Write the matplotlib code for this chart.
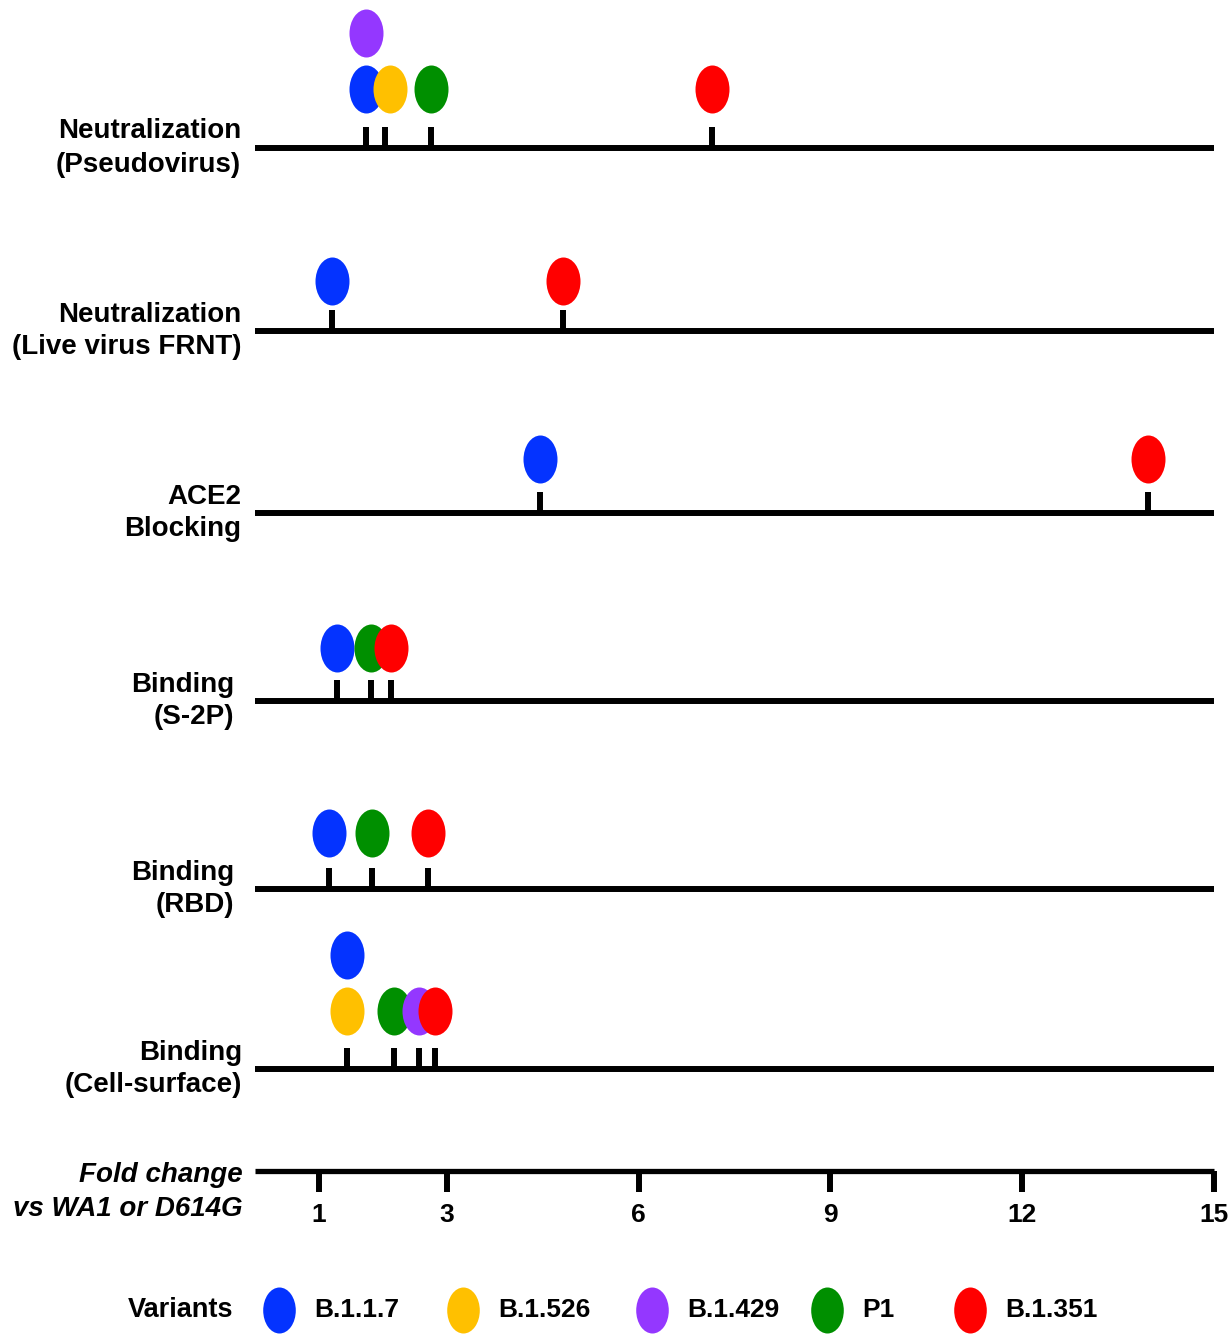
import numpy as np
import matplotlib
matplotlib.use('Agg')
import matplotlib.pyplot as plt
from matplotlib.path import Path
from matplotlib.transforms import (Affine2D, ScaledTranslation,
                                   blended_transform_factory, IdentityTransform)

plt.rcParams['font.family'] = ['Liberation Sans', 'DejaVu Sans']

# ---- data (fold change vs WA1 / D614G) ----
variants = ['B.1.1.7', 'B.1.526', 'B.1.429', 'P1', 'B.1.351']
colors = ['#0433FF', '#FFC000', '#9437FF', '#008F00', '#FF0000']
assays = ['Neutralization\n(Pseudovirus)', 'Neutralization\n(Live virus FRNT)',
          'ACE2\nBlocking', 'Binding\n(S-2P)', 'Binding\n(RBD)', 'Binding\n(Cell-surface)']
nan = np.nan
b117 = [1.74, 1.20, 4.46, 1.29, 1.16, 1.44]
b1526 = [2.04, nan, nan, nan, nan, 1.44]
b1429 = [1.74, nan, nan, nan, nan, 2.56]
p1 = [2.75, nan, nan, 1.81, 1.83, 2.17]
b1351 = [7.15, 4.82, 13.97, 2.13, 2.71, 2.82]
fold_ticks = [1, 3, 6, 9, 12, 15]

# ---- layout (pixels, y measured from top) ----
row_y = [148, 331, 513, 701, 889, 1069]
dot_lift = [59, 50, 54, 53, 56, 58]
label_gap = [14, 14, 14, 21, 21, 13]
stacked = {(0, 'B.1.429'), (5, 'B.1.1.7')}
nudge = {(0, 'B.1.526'): 5}
axis_y = 1171
legend_y = 1310
legend_x = [279, 463, 652, 827, 970]

W, H = 1228, 1334
fig = plt.figure(figsize=(W / 100, H / 100), dpi=100)
ax = fig.add_axes([255 / W, 0, 959 / W, 1])
ax.set_xlim(0, 15)
ax.set_ylim(H, 0)

# ellipse marker (34 x 48 px)
ell = Path.unit_circle().transformed(Affine2D().scale(34, 48))
ms = 48 * 0.72

lw = 4.3
series = [b117, b1526, b1429, p1, b1351]

for r, y in enumerate(row_y):
    ax.hlines(y, 0, 15, color='black', lw=lw, capstyle='butt', zorder=1)
    pts = []
    for name, col, vals in zip(variants, colors, series):
        v = vals[r]
        if np.isnan(v):
            continue
        pts.append((v, name, col))
    vs = [p[0] for p in pts]
    ax.vlines(vs, y - 21, y, color='black', lw=lw, zorder=1)
    for k, (v, name, col) in enumerate(sorted(pts, key=lambda p: p[0])):
        lift = dot_lift[r] + (56 if (r, name) in stacked else 0)
        shift = ScaledTranslation(nudge.get((r, name), 0) / 100, 0, fig.dpi_scale_trans)
        ax.plot([v], [y - lift], marker=ell, markersize=ms, color=col,
                markeredgewidth=0, linestyle='none', zorder=3 + k,
                transform=ax.transData + shift)
    ax.annotate(assays[r], xy=(0, y), xytext=(-label_gap[r], 0), textcoords='offset pixels',
                ha='right', va='center', fontsize=20, fontweight='bold',
                linespacing=1.35, annotation_clip=False)

# fold-change axis
for s in ['top', 'left', 'right']:
    ax.spines[s].set_visible(False)
ax.spines['bottom'].set_position(('data', axis_y))
ax.spines['bottom'].set_linewidth(3.8)
ax.spines['bottom'].set_capstyle('butt')
ax.yaxis.set_visible(False)
ax.set_xticks(fold_ticks)
ax.set_xticklabels([str(t) for t in fold_ticks], fontsize=19, fontweight='bold')
ax.tick_params(axis='x', direction='out', length=15, width=lw, pad=8)
ax.annotate('Fold change\nvs WA1 or D614G', xy=(0, axis_y + 21), xytext=(-12, 0),
            textcoords='offset pixels', ha='right', va='center', fontsize=20,
            fontweight='bold', fontstyle='italic', linespacing=1.35, annotation_clip=False)

# legend
trans = blended_transform_factory(IdentityTransform(), ax.transData)
ax.text(233, legend_y, 'Variants', transform=trans, ha='right', va='center',
        fontsize=19.5, fontweight='bold')
for x, name, col in zip(legend_x, variants, colors):
    ax.plot([x], [legend_y], marker=ell, markersize=46 * 0.72, color=col,
            markeredgewidth=0, linestyle='none', transform=trans, clip_on=False)
    ax.text(x + 35, legend_y, name, transform=trans, ha='left', va='center',
            fontsize=19, fontweight='bold')

fig.savefig('out.png', dpi=100)
